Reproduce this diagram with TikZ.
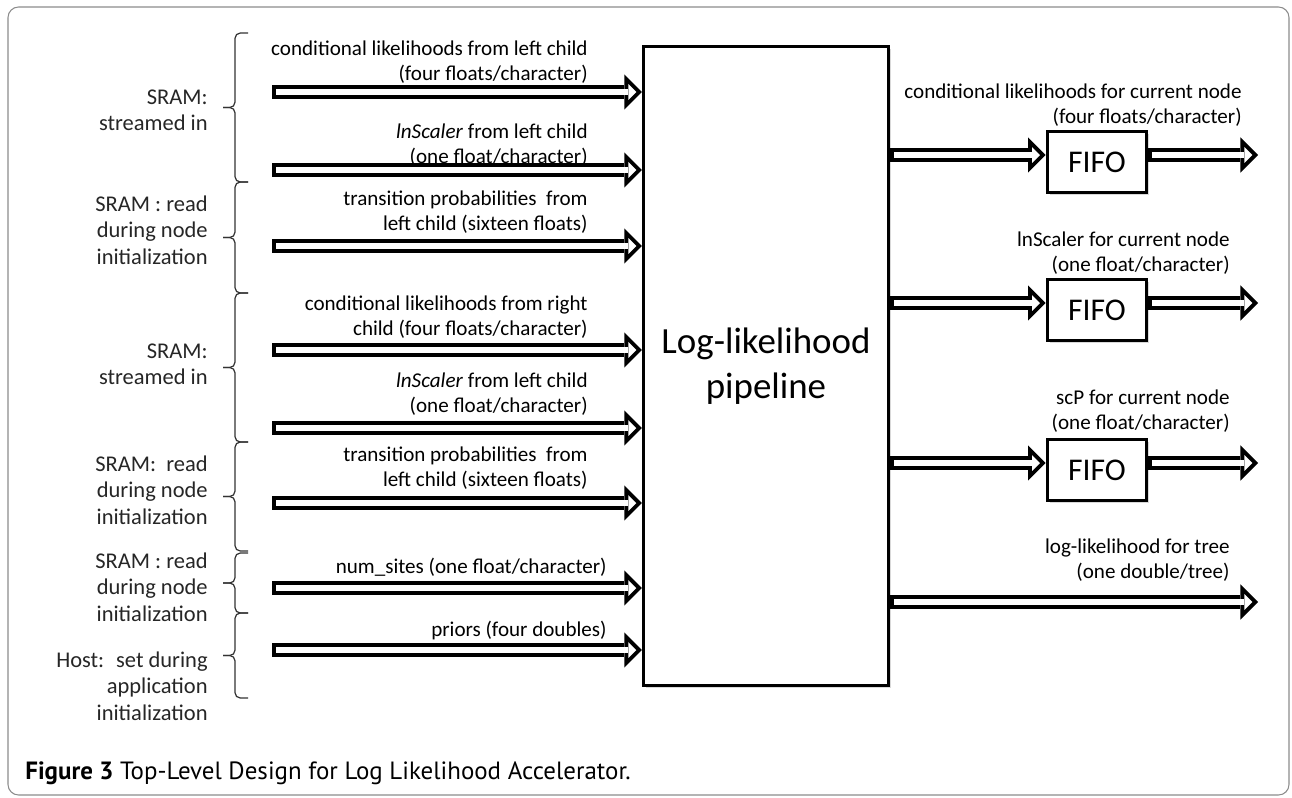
\documentclass[tikz,border=0pt]{standalone}
\usepackage{fontspec}
\setmainfont{Carlito}
\newfontfamily\capfont{PT Sans}
\usetikzlibrary{arrows.meta, shadows}

\begin{document}
\begin{tikzpicture}[x=0.02cm, y=-0.02cm,
    bus/.style={white, line width=3.4pt, -{Triangle[length=4.45pt, width=8.9pt, line width=0pt]},
                shorten >=3.25pt, shorten <=2.3pt,
                preaction={draw=black, line width=8pt, -{Triangle[length=10pt, width=20pt, line width=0pt]},
                           shorten >=0pt, shorten <=0pt}},
    fifo/.style={draw, line width=1.7pt, fill=white, minimum width=56.7pt, minimum height=34.6pt, inner sep=0pt,
                 font=\fontsize{18}{20}\selectfont, drop shadow={opacity=0.3, shadow xshift=1.5pt, shadow yshift=-1.5pt}},
    lbl/.style={anchor=east, align=right, inner sep=0pt, font=\fontsize{12}{14.2}\selectfont},
    src/.style={anchor=east, align=right, inner sep=0pt, font=\fontsize{12.8}{15}\selectfont, text=black!85},
    grp/.style={line width=0.7pt, black!80, rounded corners=3pt}]
  \useasboundingbox (0,0) rectangle (1292,798);
  \draw[black!45, line width=0.6pt, rounded corners=6pt] (8,7) rectangle (1289,795);

  % pipeline block
  \node[draw, line width=1.7pt, fill=white, minimum width=139.5pt, minimum height=364pt, align=center,
        font=\fontsize{21}{25.5}\selectfont, drop shadow={opacity=0.3, shadow xshift=1.5pt, shadow yshift=-1.5pt}]
        (main) at (766,366) {Log-likelihood\\pipeline};

  % inputs
  \foreach \y [count=\i] in {92,170,246,350,428,503,588,650} {
    \coordinate (in\i) at (272,\y);
    \draw[bus] (in\i) -- (in\i -| main.west);
  }
  \node[lbl] (l1) at (588,62) {conditional likelihoods from left child\\(four floats/character)};
  \node[lbl] (l2) at (588,145) {\textit{lnScaler} from left child\\(one float/character)};
  \node[lbl] (l3) at (588,212) {transition probabilities~ from\\left child (sixteen floats)};
  \node[lbl] (l4) at (588,317) {conditional likelihoods from right\\child (four floats/character)};
  \node[lbl] (l5) at (588,394) {\textit{lnScaler} from left child\\(one float/character)};
  \node[lbl] (l6) at (588,468) {transition probabilities~ from\\left child (sixteen floats)};
  \node[lbl] (l7) at (607,567) {num\_sites (one float/character)};
  \node[lbl] (l8) at (607,630) {priors (four doubles)};

  % sources (braces)
  \foreach \t/\b in {33/182, 182/293, 293/442, 442/551, 553/613, 613/698} {
    \draw[grp] (248,\t) -- (235,\t) -- (235,{(\t+\b)/2}) -- (223,{(\t+\b)/2});
    \draw[grp] (223,{(\t+\b)/2}) -- (235,{(\t+\b)/2}) -- (235,\b) -- (248,\b);
  }
  \node[src] (s1) at (208,110) {SRAM:\\streamed in};
  \node[src] (s2) at (208,230) {SRAM : read\\during node\\initialization};
  \node[src] (s3) at (208,364) {SRAM:\\streamed in};
  \node[src] (s4) at (208,490) {SRAM:~ read\\during node\\initialization};
  \node[src] (s5) at (208,587) {SRAM : read\\during node\\initialization};
  \node[src] (s6) at (208,686) {Host:~ set during\\application\\initialization};

  % outputs
  \node[fifo] (fifo1) at (1097,162) {FIFO};
  \node[fifo] (fifo2) at (1097,310) {FIFO};
  \node[fifo] (fifo3) at (1097,470) {FIFO};
  \coordinate (out1) at (1258,155);
  \coordinate (out2) at (1258,303);
  \coordinate (out3) at (1258,463);
  \coordinate (out4) at (1258,602);
  \foreach \i in {1,2,3} {
    \draw[bus] (main.east |- out\i) -- (fifo\i.west |- out\i);
    \draw[bus] (fifo\i.east |- out\i) -- (out\i);
  }
  \draw[bus] (main.east |- out4) -- (out4);
  \node[lbl] (r1) at (1242,105) {conditional likelihoods for current node\\(four floats/character)};
  \node[lbl] (r2) at (1230,253) {lnScaler for current node\\(one float/character)};
  \node[lbl] (r3) at (1230,411) {scP for current node\\(one float/character)};
  \node[lbl] (r4) at (1230,560) {log-likelihood for tree\\(one double/tree)};

  \node[anchor=west, inner sep=0pt, font=\capfont\fontsize{14.2}{16}\selectfont] (cap) at (25,773)
    {\textbf{Figure 3} Top-Level Design for Log Likelihood Accelerator.};
\end{tikzpicture}
\end{document}
